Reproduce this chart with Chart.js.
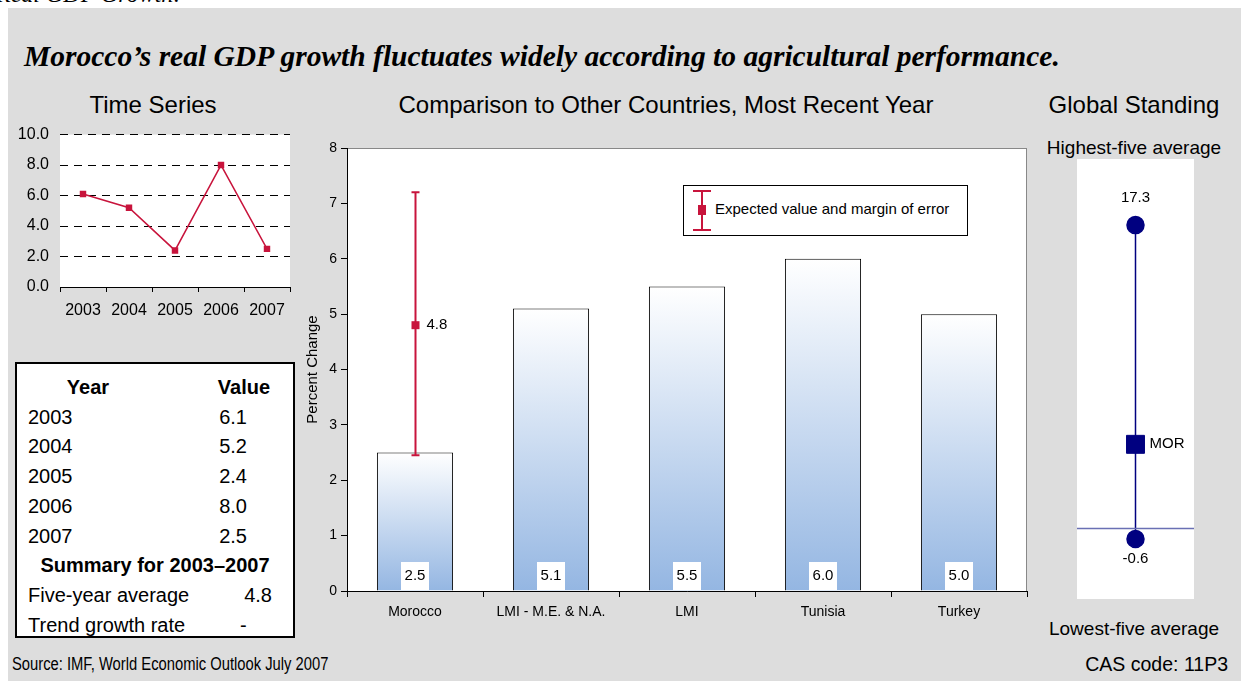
<!DOCTYPE html>
<html>
<head>
<meta charset="utf-8">
<script src="https://cdn.jsdelivr.net/npm/chart.js@4.4.1/dist/chart.umd.min.js"></script>
<style>
  body { margin: 0; width: 1241px; height: 681px; overflow: hidden; position: relative; background: #fff;
         font-family: 'Liberation Sans', Arial, sans-serif; color: #000; }
  .abs { position: absolute; white-space: nowrap; }
  #panel { position: absolute; left: 8px; top: 8px; right: 0; bottom: 0; background: #dddddd; }
  #kicker { left: -4px; top: -19px; font: italic 24px 'Liberation Serif', 'Times New Roman', serif; }
  #headline { left: 24px; top: 40px; font: bold italic 29.5px 'Liberation Serif', 'Times New Roman', serif; }
  .section { font-size: 24px; transform: translateX(-50%); }
  .note { font-size: 19px; transform: translateX(-50%); }
  #table { left: 15px; top: 362px; width: 276px; height: 272px; background: #fff; border: 2px solid #000; }
  #table div { position: absolute; font-size: 20px; line-height: 24px; white-space: nowrap; }
  #legend { left: 683px; top: 185px; width: 283px; height: 49px; background: #fff; border: 1px solid #000; }
  #legend span { position: absolute; left: 31px; top: 14px; font-size: 15px; }
  canvas { position: absolute; }
  #footer { left: 12px; top: 654px; font-size: 18px; transform: scaleX(0.82); transform-origin: left center; }
  #cas { right: 13px; top: 653px; font-size: 19.5px; }
</style>
</head>
<body>
<div id="panel"></div>
<div class="abs" id="kicker">Real GDP Growth:</div>
<div class="abs" id="headline">Morocco’s real GDP growth fluctuates widely according to agricultural performance.</div>

<div class="abs section" style="left:153px; top:91px;">Time Series</div>
<div class="abs section" style="left:666px; top:91px;">Comparison to Other Countries, Most Recent Year</div>
<div class="abs section" style="left:1134px; top:91px;">Global Standing</div>

<canvas id="tsChart" width="300" height="206" style="left:0; top:114px;"></canvas>
<div class="abs" id="table"></div>

<canvas id="cmpChart" width="750" height="510" style="left:290px; top:130px;"></canvas>
<div class="abs" id="legend">
  <svg width="30" height="49" style="position:absolute; left:0; top:0;">
    <line x1="18" y1="5" x2="18" y2="44" stroke="#c8143c" stroke-width="2"/>
    <line x1="9" y1="5" x2="27" y2="5" stroke="#c8143c" stroke-width="2"/>
    <line x1="9" y1="44" x2="27" y2="44" stroke="#c8143c" stroke-width="2"/>
    <rect x="14" y="19" width="8" height="10" fill="#c8143c"/>
  </svg>
  <span>Expected value and margin of error</span>
</div>

<div class="abs note" style="left:1134px; top:137px;">Highest-five average</div>
<canvas id="gsChart" width="117" height="440" style="left:1077px; top:159px; background:#fff;"></canvas>
<div class="abs note" style="left:1134px; top:618px;">Lowest-five average</div>

<div class="abs" id="footer">Source: IMF, World Economic Outlook July 2007</div>
<div class="abs" id="cas">CAS code: 11P3</div>

<script>
// Real GDP growth, Morocco
const years = ['2003', '2004', '2005', '2006', '2007'];
const growth = [6.1, 5.2, 2.4, 8.0, 2.5];
const fiveYearAverage = 4.8;
const trendGrowth = '-';

// Most recent year, Morocco vs. peers
const countries = ['Morocco', 'LMI - M.E. & N.A.', 'LMI', 'Tunisia', 'Turkey'];
const recentGrowth = [2.5, 5.1, 5.5, 6.0, 5.0];
const expectedValue = [4.8, null, null, null, null];
const errorLow = [2.45, null, null, null, null];
const errorHigh = [7.2, null, null, null, null];

// Global standing
const standingValues = [17.3, 4.8, -0.6];   // highest-five avg, Morocco, lowest-five avg
const standingTags = ['17.3', 'MOR', '-0.6'];

const RED = '#c8143c';
const NAVY = '#000080';

Chart.defaults.font.family = "'Liberation Sans', Arial, sans-serif";
Chart.defaults.color = '#000';

const whiteArea = {
  id: 'whiteArea',
  beforeDraw(chart, args, opts) {
    const { ctx, chartArea: a } = chart;
    ctx.save();
    ctx.fillStyle = '#fff';
    ctx.fillRect(a.left, a.top, a.right - a.left, a.bottom - a.top);
    if (opts.frame) {
      ctx.strokeStyle = opts.frame;
      ctx.lineWidth = 1;
      ctx.strokeRect(a.left + 0.5, a.top + 0.5, a.right - a.left - 1, a.bottom - a.top);
    }
    ctx.restore();
  }
};

// ---- time series ----
new Chart(document.getElementById('tsChart'), {
  type: 'line',
  data: {
    labels: years,
    datasets: [{
      data: growth,
      borderColor: RED,
      backgroundColor: RED,
      borderWidth: 1.5,
      pointStyle: 'rect',
      pointRadius: 3.5,
      tension: 0
    }]
  },
  options: {
    responsive: false,
    animation: false,
    layout: { padding: { top: 7, right: 10 } },
    plugins: { legend: { display: false }, tooltip: { enabled: false }, whiteArea: {} },
    scales: {
      x: {
        offset: true,
        grid: { offset: true, drawOnChartArea: false, drawTicks: true, tickLength: 5, color: '#000' },
        border: { display: true, color: '#000' },
        ticks: { font: { size: 16 }, padding: 9, maxRotation: 0 },
        afterFit: s => { s.height = 33; }
      },
      y: {
        min: 0, max: 10,
        grid: { color: '#000', drawTicks: false },
        border: { display: false, dash: [8, 6] },
        ticks: { stepSize: 2, font: { size: 16 }, padding: 11, callback: v => v.toFixed(1) },
        afterFit: s => { s.width = 60; }
      }
    }
  },
  plugins: [whiteArea]
});

// ---- summary table ----
const table = document.getElementById('table');
function cell(text, row, css) {
  const d = document.createElement('div');
  d.textContent = text;
  d.style.top = (11 + row * 29.7) + 'px';
  Object.assign(d.style, css);
  table.appendChild(d);
}
cell('Year', 0, { left: '43px', width: '56px', textAlign: 'center', fontWeight: 'bold' });
cell('Value', 0, { left: '195px', width: '64px', textAlign: 'center', fontWeight: 'bold' });
years.forEach((y, i) => {
  cell(y, i + 1, { left: '11px' });
  cell(growth[i].toFixed(1), i + 1, { right: '46px' });
});
cell('Summary for 2003–2007', 6, { left: '0', width: '276px', textAlign: 'center', fontWeight: 'bold' });
cell('Five-year average', 7, { left: '11px' });
cell(fiveYearAverage.toFixed(1), 7, { right: '21px' });
cell('Trend growth rate', 8, { left: '11px' });
cell(trendGrowth, 8, { left: '223px' });

// ---- comparison bars ----
function barFill(c) {
  const chart = c.chart;
  if (!chart.chartArea || c.type !== 'data') return '#b8cfee';
  const y = chart.scales.y;
  const g = chart.ctx.createLinearGradient(0, y.getPixelForValue(c.raw), 0, y.getPixelForValue(0));
  g.addColorStop(0, '#ffffff');
  g.addColorStop(1, '#94b6e2');
  return g;
}

const barDecor = {
  id: 'barDecor',
  afterDatasetsDraw(chart) {
    const { ctx } = chart;
    const x = chart.scales.x, y = chart.scales.y;
    const base = y.getPixelForValue(0);
    ctx.save();
    ctx.font = "15px 'Liberation Sans', Arial, sans-serif";
    ctx.textAlign = 'center';
    ctx.textBaseline = 'middle';
    recentGrowth.forEach((v, i) => {
      const px = x.getPixelForValue(i);
      ctx.fillStyle = '#fff';
      ctx.fillRect(px - 14, base - 29, 28, 28);
      ctx.fillStyle = '#000';
      ctx.fillText(v.toFixed(1), px, base - 15);
    });

    expectedValue.forEach((v, i) => {
      if (v == null) return;
      const px = Math.round(x.getPixelForValue(i)) + 0.5;
      const top = y.getPixelForValue(errorHigh[i]);
      const bot = y.getPixelForValue(errorLow[i]);
      const mid = y.getPixelForValue(v);
      ctx.strokeStyle = RED;
      ctx.lineWidth = 2;
      ctx.beginPath();
      ctx.moveTo(px, top); ctx.lineTo(px, bot);
      ctx.moveTo(px - 4, top); ctx.lineTo(px + 4, top);
      ctx.moveTo(px - 4, bot); ctx.lineTo(px + 4, bot);
      ctx.stroke();
      ctx.fillStyle = RED;
      ctx.fillRect(px - 4, mid - 4, 8, 8);
      ctx.fillStyle = '#000';
      ctx.textAlign = 'left';
      ctx.fillText(v.toFixed(1), px + 11, mid);
    });
    ctx.restore();
  }
};

new Chart(document.getElementById('cmpChart'), {
  type: 'bar',
  data: {
    labels: countries,
    datasets: [{
      data: recentGrowth,
      backgroundColor: barFill,
      borderColor: '#000',
      borderWidth: 1,
      barPercentage: 0.56,
      categoryPercentage: 1
    }]
  },
  options: {
    responsive: false,
    animation: false,
    layout: { padding: { top: 18, right: 13 } },
    plugins: { legend: { display: false }, tooltip: { enabled: false }, whiteArea: { frame: '#888' } },
    scales: {
      x: {
        grid: { offset: true, drawOnChartArea: false, drawTicks: true, tickLength: 6, color: '#000' },
        border: { color: '#000' },
        ticks: { font: { size: 14 }, padding: 7, maxRotation: 0 },
        afterFit: s => { s.height = 49; }
      },
      y: {
        min: 0, max: 8,
        grid: { drawOnChartArea: false, drawTicks: true, tickLength: 6, color: '#000' },
        border: { color: '#000' },
        ticks: { stepSize: 1, font: { size: 14 }, padding: 4 },
        title: { display: true, text: 'Percent Change', font: { size: 15 }, padding: { top: 14, bottom: 0 } },
        afterFit: s => { s.width = 57; }
      }
    }
  },
  plugins: [whiteArea, barDecor]
});

// ---- global standing ----
const standingText = {
  id: 'standingText',
  afterDatasetsDraw(chart) {
    const { ctx } = chart;
    const x = chart.scales.x, y = chart.scales.y;
    const px = x.getPixelForValue(1);
    ctx.save();
    ctx.font = "15px 'Liberation Sans', Arial, sans-serif";
    ctx.fillStyle = '#000';
    ctx.textBaseline = 'middle';
    ctx.textAlign = 'center';
    ctx.fillText(standingTags[0], px, y.getPixelForValue(standingValues[0]) - 27);
    ctx.fillText(standingTags[2], px, y.getPixelForValue(standingValues[2]) + 20);
    ctx.textAlign = 'left';
    ctx.fillText(standingTags[1], px + 14, y.getPixelForValue(standingValues[1]));
    ctx.restore();
  }
};

new Chart(document.getElementById('gsChart'), {
  type: 'scatter',
  data: {
    datasets: [
      {
        data: [{ x: 0, y: 0 }, { x: 2, y: 0 }],
        showLine: true, borderColor: '#6a70b4', borderWidth: 1.5, pointRadius: 0
      },
      {
        data: [{ x: 1, y: standingValues[0] }, { x: 1, y: standingValues[2] }],
        showLine: true, borderColor: NAVY, backgroundColor: NAVY, borderWidth: 1.5,
        pointStyle: 'circle', pointRadius: 8.5
      },
      {
        data: [{ x: 1, y: standingValues[1] }],
        borderColor: NAVY, backgroundColor: NAVY, pointStyle: 'rect', pointRadius: 12.7
      }
    ]
  },
  options: {
    responsive: false,
    animation: false,
    layout: { padding: 0, autoPadding: false },
    plugins: { legend: { display: false }, tooltip: { enabled: false } },
    scales: {
      x: { display: false, min: 0, max: 2 },
      y: { display: false, min: -4.02, max: 21.07 }
    }
  },
  plugins: [standingText]
});
</script>
</body>
</html>
